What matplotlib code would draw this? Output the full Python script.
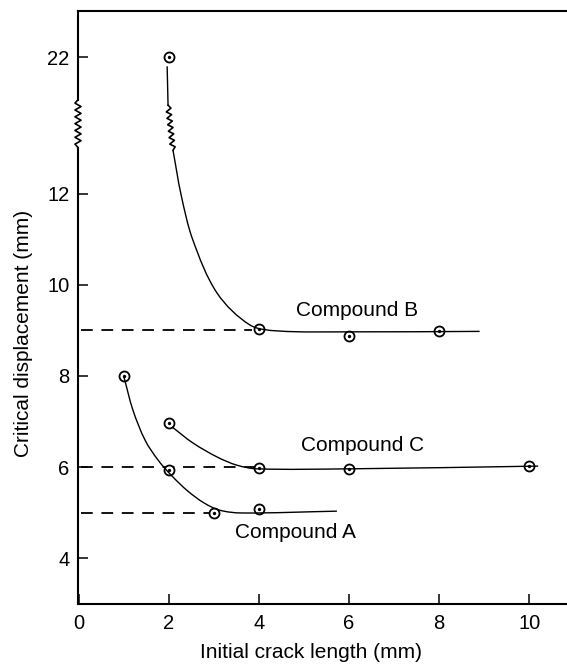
import numpy as np
import matplotlib
matplotlib.use("Agg")
import matplotlib.pyplot as plt
from matplotlib.lines import Line2D
from matplotlib.path import Path
from matplotlib.patches import PathPatch
from matplotlib.transforms import IdentityTransform

plt.rcParams['font.family'] = ['Liberation Sans', 'DejaVu Sans']
FS_TICK = 14.5
FS_TEXT = 15

# ---- measured points ----
a_x = [1, 2, 3, 4]
a_y = [8.0, 5.93, 4.99, 5.07]
b_x = [2, 4, 6, 8]
b_y = [22.0, 9.03, 8.87, 8.99]
c_x = [2, 4, 6, 10]
c_y = [6.97, 5.98, 5.96, 6.02]

# ---- hand-drawn trend lines (knots) ----
a_curve_x = [1.0, 1.2, 1.47, 1.76, 2.07, 2.42, 2.78, 3.13, 3.62, 5.73]
a_curve_y = [7.98, 7.25, 6.59, 6.15, 5.80, 5.47, 5.21, 5.05, 4.99, 5.03]
b_top_x = [1.96, 1.98]
b_top_y = [21.3, 18.5]
b_curve_x = [2.09, 2.27, 2.53, 3.07, 3.80, 4.42, 6.0, 8.9]
b_curve_y = [15.2, 11.98, 10.99, 9.82, 9.12, 8.99, 8.97, 8.98]
c_curve_x = [2.07, 2.53, 3.07, 3.51, 3.96, 6.0, 10.2]
c_curve_y = [6.88, 6.53, 6.22, 6.04, 5.96, 5.96, 6.02]

# limiting values (dashed)
limits = [9.0, 6.0, 5.0]
limit_ends = [3.85, 3.9, 2.9]

labels = ["Compound A", "Compound B", "Compound C"]
label_pos = [(4.81, 4.57), (6.18, 9.45), (6.29, 6.48)]

y_ticks = [4, 6, 8, 10, 12, 22]
x_ticks = [0, 2, 4, 6, 8, 10]

# compressed scale above 12 mm
BREAK = 12.0
SQUEEZE = 0.3


def fwd(y):
    y = np.asarray(y, float)
    return np.where(y <= BREAK, y, BREAK + (y - BREAK) * SQUEEZE)


def inv(t):
    t = np.asarray(t, float)
    return np.where(t <= BREAK, t, BREAK + (t - BREAK) / SQUEEZE)


fig = plt.figure(figsize=(5.67, 6.64), dpi=100)
ax = fig.add_axes([78 / 567, 60 / 664, 1 - 78 / 567, 593 / 664])
ax.set_yscale('function', functions=(fwd, inv))
ax.set_xlim(-0.02, 10.84)
ax.set_ylim(2.99, 25.4)


def smooth_curve(xs, ys, lw=1.0):
    """Draw a smooth Hermite curve through the knots (in screen space)."""
    P = ax.transData.transform(np.column_stack([xs, ys]))
    n = len(P)
    d = np.hypot(*np.diff(P, axis=0).T)
    m = np.zeros_like(P)
    m[0] = (P[1] - P[0]) / d[0]
    m[-1] = (P[-1] - P[-2]) / d[-1]
    for i in range(1, n - 1):
        m[i] = (P[i + 1] - P[i - 1]) / (d[i - 1] + d[i])
    verts = [P[0]]
    codes = [Path.MOVETO]
    for i in range(n - 1):
        verts += [P[i] + m[i] * d[i] / 3, P[i + 1] - m[i + 1] * d[i] / 3, P[i + 1]]
        codes += [Path.CURVE4] * 3
    fig.add_artist(PathPatch(Path(verts, codes), transform=IdentityTransform(),
                             fill=False, edgecolor='black', lw=lw, zorder=2))


lw = 1.0
smooth_curve(a_curve_x, a_curve_y, lw)
smooth_curve(c_curve_x, c_curve_y, lw)
ax.plot(b_top_x, b_top_y, color='black', lw=lw, zorder=2)
smooth_curve(b_curve_x, b_curve_y, lw)

for yv, xe in zip(limits, limit_ends):
    ax.plot([0.05, xe], [yv, yv], color='black', lw=1.3, dashes=(6.5, 4.8), zorder=1)

for xs, ys in [(a_x, a_y), (b_x, b_y), (c_x, c_y)]:
    ax.plot(xs, ys, 'o', ms=7.2, mfc='white', mec='black', mew=1.3, zorder=4)
    ax.plot(xs, ys, 'o', ms=1.4, mfc='black', mec='black', zorder=5)

for txt, (tx, ty) in zip(labels, label_pos):
    ax.text(tx, ty, txt, ha='center', va='center', fontsize=FS_TEXT)

ax.set_xticks(x_ticks)
ax.set_xticklabels([str(v) for v in x_ticks])
ax.set_yticks(y_ticks)
ax.set_yticklabels([str(v) for v in y_ticks])
ax.minorticks_off()
ax.tick_params(direction='in', length=7.5, width=1.1, labelsize=FS_TICK, pad=7)
ax.tick_params(axis='y', pad=6)
ax.tick_params(right=False, top=False)

for s in ['right', 'left']:
    ax.spines[s].set_visible(False)
for s in ['top', 'bottom']:
    ax.spines[s].set_linewidth(1.5)

fig.text(311 / 567, 1 - 652 / 664, "Initial crack length (mm)", ha='center', va='center',
         fontsize=FS_TEXT)
fig.text(24 / 567, 1 - 333 / 664, "Critical displacement (mm)", ha='center', va='center',
         rotation=90, fontsize=FS_TEXT)


def zigzag(p0, p1, n=7, amp=3.0):
    p0 = np.asarray(p0, float)
    p1 = np.asarray(p1, float)
    dv = p1 - p0
    L = np.hypot(*dv)
    u = dv / L
    nrm = np.array([-u[1], u[0]])
    k = 2 * n
    pts = [p0]
    for i in range(1, k):
        sign = 1 if i % 2 else -1
        pts.append(p0 + dv * (i / k) + nrm * amp * sign)
    pts.append(p1)
    return np.array(pts)


# left axis line with a break between 15.4 and 18.9 mm
lo, hi = 15.4, 18.9
ylo = ax.transData.transform((0, lo))[1]
yhi = ax.transData.transform((0, hi))[1]
bbox = ax.get_window_extent()
x0 = bbox.x0
spine_lw = 1.5
fig.add_artist(Line2D([x0, x0], [bbox.y0, ylo], transform=IdentityTransform(), color='black', lw=spine_lw))
fig.add_artist(Line2D([x0, x0], [yhi, bbox.y1], transform=IdentityTransform(), color='black', lw=spine_lw))
zz = zigzag((x0, ylo), (x0, yhi), n=7, amp=3.0)
fig.add_artist(Line2D(zz[:, 0], zz[:, 1], transform=IdentityTransform(), color='black', lw=1.2))

# wiggle on the Compound B curve across the break
q0 = ax.transData.transform((b_top_x[-1], b_top_y[-1]))
q1 = ax.transData.transform((b_curve_x[0], b_curve_y[0]))
zz = zigzag(q0, q1, n=7, amp=2.5)
fig.add_artist(Line2D(zz[:, 0], zz[:, 1], transform=IdentityTransform(), color='black', lw=1.2))

fig.savefig("out.png", dpi=100)
